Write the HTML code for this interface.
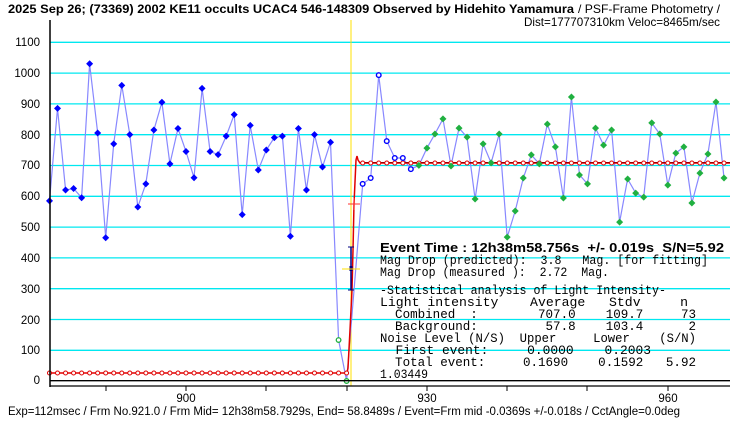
<!DOCTYPE html>
<html><head><meta charset="utf-8"><style>
html,body{margin:0;padding:0;background:#fff;width:740px;height:425px;overflow:hidden}
svg{display:block}
.m text{font-family:"Liberation Mono",monospace;font-size:12.5px;white-space:pre}
</style></head><body>
<svg id="s" width="740" height="425" xmlns="http://www.w3.org/2000/svg">
<g stroke="#00e8f0" stroke-width="1.3">
<line x1="50" y1="42.3" x2="730" y2="42.3"/><line x1="50" y1="73.1" x2="730" y2="73.1"/>
<line x1="50" y1="103.9" x2="730" y2="103.9"/><line x1="50" y1="134.7" x2="730" y2="134.7"/>
<line x1="50" y1="165.5" x2="730" y2="165.5"/><line x1="50" y1="196.3" x2="730" y2="196.3"/>
<line x1="50" y1="227.1" x2="730" y2="227.1"/><line x1="50" y1="257.9" x2="730" y2="257.9"/>
<line x1="50" y1="288.7" x2="730" y2="288.7"/><line x1="50" y1="319.5" x2="730" y2="319.5"/>
<line x1="50" y1="350.3" x2="730" y2="350.3"/>
</g>
<line x1="351" y1="20" x2="351" y2="386" stroke="#ffe000" stroke-width="1"/>
<g font-family="Liberation Sans,sans-serif" font-size="11.5" text-anchor="end" fill="#000">
<text x="40" y="46">1100</text><text x="40" y="77">1000</text><text x="40" y="108">900</text>
<text x="40" y="139">800</text><text x="40" y="169">700</text><text x="40" y="200">600</text>
<text x="40" y="231">500</text><text x="40" y="262">400</text><text x="40" y="293">300</text>
<text x="40" y="324">200</text><text x="40" y="354">100</text><text x="40" y="384">0</text>
</g>
<g font-family="Liberation Sans,sans-serif" font-size="11.5" text-anchor="middle">
<text x="186" y="402">900</text><text x="427" y="402">930</text><text x="668" y="402">960</text>
</g>
<g id="plot"></g>
<line x1="50" y1="20" x2="50" y2="387" stroke="#000" stroke-width="1.5"/>
<line x1="50" y1="380.7" x2="730" y2="380.7" stroke="#000" stroke-width="1.3"/>
<line x1="50" y1="386" x2="730" y2="386" stroke="#000" stroke-width="1.3"/>
<g stroke="#000"><line x1="106" y1="386" x2="106" y2="391"/><line x1="186" y1="386" x2="186" y2="391"/><line x1="266" y1="386" x2="266" y2="391"/><line x1="347" y1="386" x2="347" y2="391"/><line x1="427" y1="386" x2="427" y2="391"/><line x1="507" y1="386" x2="507" y2="391"/><line x1="587" y1="386" x2="587" y2="391"/><line x1="668" y1="386" x2="668" y2="391"/></g>
<text x="8" y="13" font-family="Liberation Sans,sans-serif" font-size="12" font-weight="bold" textLength="566" lengthAdjust="spacingAndGlyphs">2025 Sep 26; (73369) 2002 KE11 occults UCAC4 546-148309 Observed by Hidehito Yamamura</text>
<text x="578" y="13" font-family="Liberation Sans,sans-serif" font-size="12" textLength="142" lengthAdjust="spacingAndGlyphs">/ PSF-Frame Photometry /</text>
<text x="524" y="26" font-family="Liberation Sans,sans-serif" font-size="12" textLength="196" lengthAdjust="spacingAndGlyphs">Dist=177707310km Veloc=8465m/sec</text>
<text x="380" y="252" font-family="Liberation Sans,sans-serif" font-size="12.5" font-weight="bold" textLength="344" lengthAdjust="spacingAndGlyphs" style="white-space:pre">Event Time : 12h38m58.756s  +/- 0.019s  S/N=5.92</text>
<g class="m">
<text x="380" y="264" textLength="328" lengthAdjust="spacingAndGlyphs">Mag Drop (predicted):  3.8   Mag. [for fitting]</text>
<text x="380" y="276" textLength="229" lengthAdjust="spacingAndGlyphs">Mag Drop (measured ):  2.72  Mag.</text>
<text x="380" y="294" textLength="286" lengthAdjust="spacingAndGlyphs">-Statistical analysis of Light Intensity-</text>
<text x="380" y="306" textLength="308" lengthAdjust="spacingAndGlyphs">Light intensity    Average   Stdv     n</text>
<text x="380" y="318" textLength="316" lengthAdjust="spacingAndGlyphs">  Combined  :        707.0    109.7     73</text>
<text x="380" y="330" textLength="316" lengthAdjust="spacingAndGlyphs">  Background:         57.8    103.4      2</text>
<text x="380" y="342" textLength="316" lengthAdjust="spacingAndGlyphs">Noise Level (N/S)  Upper     Lower    (S/N)</text>
<text x="380" y="354" textLength="271" lengthAdjust="spacingAndGlyphs">  First event:     0.0000    0.2003</text>
<text x="380" y="366" textLength="316" lengthAdjust="spacingAndGlyphs">  Total event:     0.1690    0.1592   5.92</text>
<text x="380" y="378" textLength="48" lengthAdjust="spacingAndGlyphs">1.03449</text>
</g>
<text x="8" y="415" font-family="Liberation Sans,sans-serif" font-size="11.5" textLength="672" lengthAdjust="spacingAndGlyphs">Exp=112msec / Frm No.921.0 / Frm Mid= 12h38m58.7929s, End= 58.8489s / Event=Frm mid -0.0369s +/-0.018s / CctAngle=0.0deg</text>
</svg>
<script>
var NS="http://www.w3.org/2000/svg",g=document.getElementById("plot");
function X(f){return 186+(f-900)*8.03}function Y(v){return 381-v*0.308}
function el(t,a){var e=document.createElementNS(NS,t);for(var k in a)e.setAttribute(k,a[k]);g.appendChild(e);return e}
var blue=[585,885,620,625,595,1030,805,465,770,960,800,565,640,815,905,705,820,745,660,950,745,735,795,865,540,830,685,750,790,795,470,820,620,800,695,775];
var all=blue.concat([133,0,575,640,659,993,779,724,724,688,700,756,802,851,698,821,792,591,770,708,802,467,552,659,734,705,834,760,594,922,669,640,821,766,815,516,656,610,597,838,802,636,740,760,578,675,737,906,659]);
var p="";for(var i=0;i<all.length;i++){var f=883+i;if(f==921)continue;p+=(p?"L":"M")+X(f).toFixed(1)+","+Y(all[i]).toFixed(1)}
el("path",{d:p,fill:"none",stroke:"#8888ff","stroke-width":1.2});
el("path",{d:"M50,373 L347,373 L348,368 L350,330 L352,290 L353,250 L354,204 L356,160 L357,156 L358,160 L360,163 L730,163",fill:"none",stroke:"#e00000","stroke-width":1.5});
el("line",{x1:360,y1:162.5,x2:730,y2:162.5,stroke:"#900","stroke-width":1});
for(var f=883;f<=968;f++){var x=X(f);if(x>731)break;var y=(f<=920)?373:163;if(f==921)continue;el("circle",{cx:x,cy:y,r:2,fill:"#fff",stroke:"#e00000","stroke-width":1})}
for(var i=0;i<all.length;i++){var f=883+i,x=X(f),y=Y(all[i]);
 if(i<36)el("path",{d:"M"+x+","+(y-3.5)+"l3.5,3.5l-3.5,3.5l-3.5,-3.5z",fill:"#0000ff"});
 else if(f==919||f==920)el("circle",{cx:x,cy:y,r:2.3,fill:"#fff",stroke:"#20b040","stroke-width":1.3});
 else if(f==921)continue;
 else if(f<=928)el("circle",{cx:x,cy:y,r:2.3,fill:"#fff",stroke:"#0000ff","stroke-width":1.4});
 else el("path",{d:"M"+x+","+(y-3.5)+"l3.5,3.5l-3.5,3.5l-3.5,-3.5z",fill:"#20b040"});}
el("line",{x1:351,y1:247,x2:351,y2:290,stroke:"#000080","stroke-width":1.5});
el("line",{x1:348,y1:247,x2:354,y2:247,stroke:"#000080"});
el("line",{x1:348,y1:290,x2:354,y2:290,stroke:"#000080"});
el("rect",{x:349.5,y:266,width:3,height:5,fill:"#000080"});
el("line",{x1:342,y1:269,x2:360,y2:269,stroke:"#ffe000"});
el("line",{x1:348,y1:204,x2:360,y2:204,stroke:"#ff3030"});
el("line",{x1:354,y1:198,x2:354,y2:210,stroke:"#ff3030"});
</script>
</body></html>
